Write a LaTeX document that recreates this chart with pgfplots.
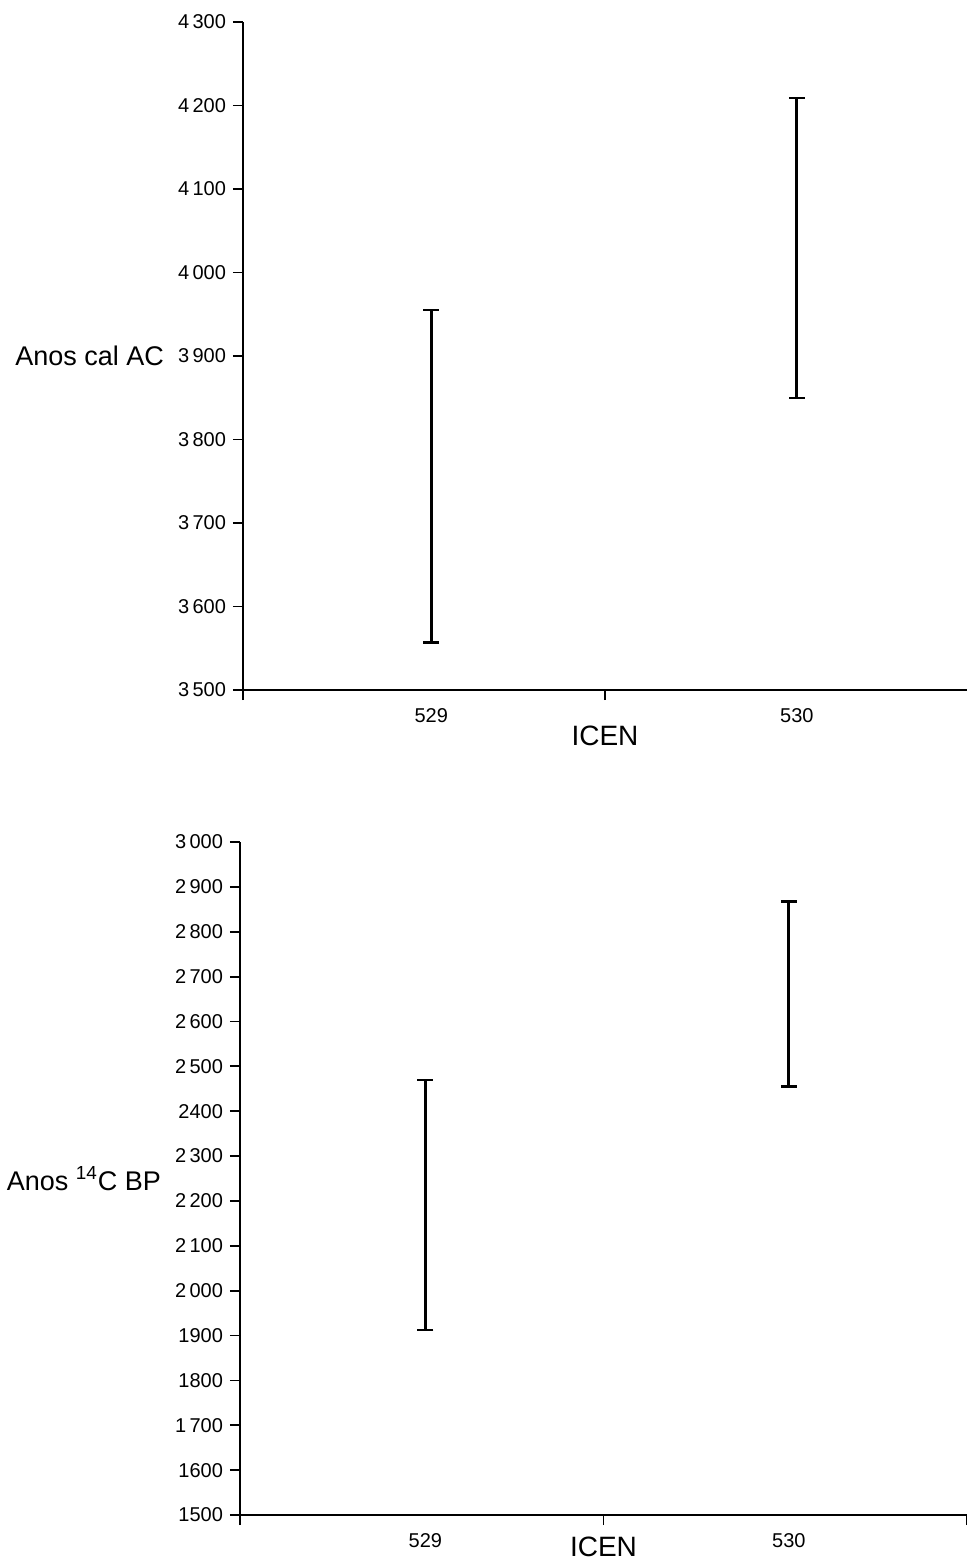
\documentclass[border=0pt]{standalone}
\usepackage{fontspec}
\setmainfont{Liberation Sans}
\usepackage{pgfplots}
\pgfplotsset{compat=1.18}

\pgfplotsset{
  datierung/.style={
    scale only axis,
    axis lines=left,
    axis line style={-, line width=1pt},
    tick align=outside,
    major tick length=5pt,
    tick style={line width=0.9pt, black},
    xmin=0, xmax=2,
    xticklabels={},
    extra x tick style={major tick length=0pt, tick label style={yshift=-5.5pt}},
    extra x tick labels={529,530},
    tick label style={font=\fontsize{10}{11}\selectfont},
    xlabel style={font=\fontsize{14}{16}\selectfont},
    ylabel style={font=\fontsize{13.5}{16}\selectfont, rotate=-90,
      at={(axis description cs:0,0.5)}, anchor=east, xshift=-36pt},
    xlabel={ICEN},
  },
  intervalo/.style={
    mark=none, draw=none,
    error bars/.cd, y dir=both, y explicit,
    error bar style={draw=black, line width=1.5pt},
    error mark options={rotate=90, mark size=4pt, line width=1.2pt, draw=black},
  },
}

\begin{document}
\begin{tikzpicture}
\path[use as bounding box] (0,0) rectangle (483.5pt,-783.5pt);

% calibrated ages
\begin{axis}[datierung,
  at={(121.5pt,-345pt)}, anchor=south west,
  width=362pt, height=334pt,
  ymin=3500, ymax=4300,
  ytick={3500,3600,...,4300},
  yticklabels={3\,500,3\,600,3\,700,3\,800,3\,900,4\,000,4\,100,4\,200,4\,300},
  xtick={0,1},
  extra x ticks={0.52,1.53},
  xlabel style={at={(axis description cs:0.5,0)}, anchor=center, yshift=-23pt},
  ylabel={Anos cal AC},
]
\addplot[intervalo] coordinates {
  (0.52,3756) +- (0,199)
  (1.53,4029.5) +- (0,179.5)
};
\end{axis}

% radiocarbon ages
\begin{axis}[datierung,
  at={(120pt,-757.5pt)}, anchor=south west,
  width=363.5pt, height=336.5pt,
  ymin=1500, ymax=3000,
  ytick={1500,1600,...,3000},
  yticklabels={1500,1600,1\,700,1800,1900,2\,000,2\,100,2\,200,2\,300,2400,2\,500,2\,600,2\,700,2\,800,2\,900,3\,000},
  xtick={0,1,2},
  extra x ticks={0.51,1.51},
  xlabel style={at={(axis description cs:0.5,0)}, anchor=center, yshift=-16pt},
  ylabel={Anos \textsuperscript{14}C BP},
]
\addplot[intervalo] coordinates {
  (0.51,2190.5) +- (0,278.5)
  (1.51,2661) +- (0,206)
};
\end{axis}
\end{tikzpicture}
\end{document}
